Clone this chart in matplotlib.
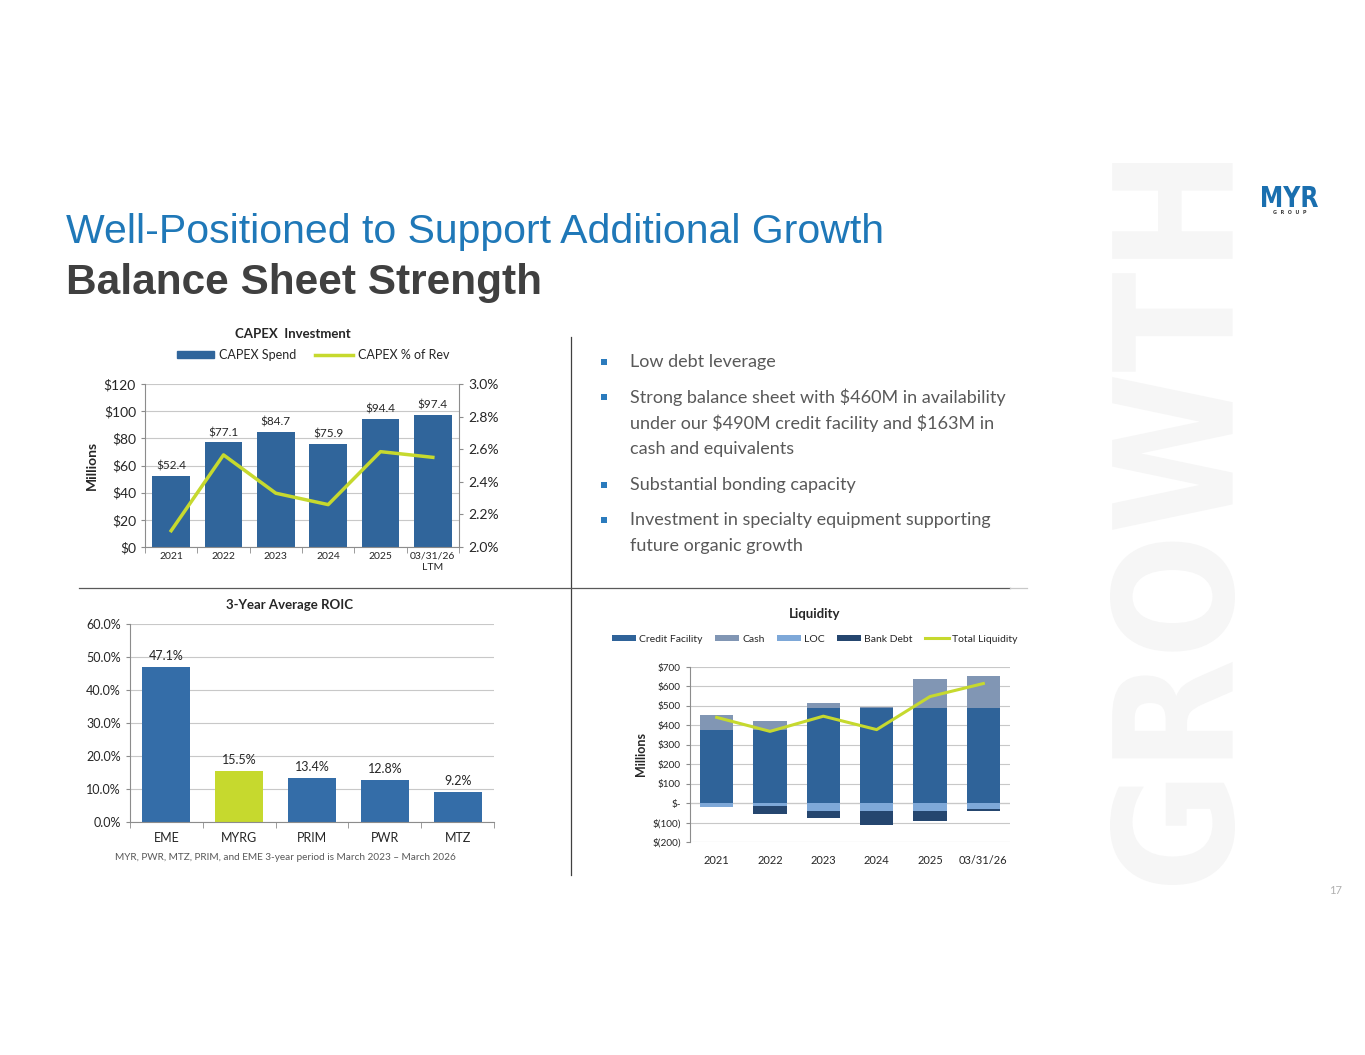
import numpy as np
import matplotlib
matplotlib.use("Agg")
import matplotlib.pyplot as plt
from matplotlib.patches import Rectangle, PathPatch
from matplotlib.lines import Line2D
from matplotlib.textpath import TextPath
from matplotlib.font_manager import FontProperties
from matplotlib.path import Path

W, H = 1365, 1055

# ---- data ----
capex_years = ["2021", "2022", "2023", "2024", "2025", "03/31/26\nLTM"]
capex_spend = [52.4, 77.1, 84.7, 75.9, 94.4, 97.4]
capex_pct = [2.10, 2.565, 2.33, 2.26, 2.585, 2.55]

roic_names = ["EME", "MYRG", "PRIM", "PWR", "MTZ"]
roic_vals = [47.1, 15.5, 13.4, 12.8, 9.2]

liq_years = ["2021", "2022", "2023", "2024", "2025", "03/31/26"]
credit_facility = [375, 375, 490, 491, 490, 490]
cash = [80, 48, 25, 3, 149, 163]
loc_used = [20, 15, 38, 38, 38, 30]
bank_debt = [0, 40, 37, 75, 55, 10]
total_liquidity = [441, 369, 447, 378, 548, 615]

bullets = [
    ["Low debt leverage"],
    ["Strong balance sheet with $460M in availability",
     "under our $490M credit facility and $163M in",
     "cash and equivalents"],
    ["Substantial bonding capacity"],
    ["Investment in specialty equipment supporting",
     "future organic growth"],
]

BLUE = "#30659b"
GREEN = "#c6d92e"
TXT = "#262626"
GRID = "#c8c8c8"
plt.rcParams["font.family"] = ["Lato", "DejaVu Sans"]


def fx(x):
    return x / W


def fy(y):
    return 1 - y / H


def style_axes(ax):
    for s in ["top", "right"]:
        ax.spines[s].set_visible(False)
    for s in ["left", "bottom"]:
        ax.spines[s].set_color("#8c8c8c")
        ax.spines[s].set_linewidth(0.8)
    ax.yaxis.grid(True, color=GRID, lw=0.8)
    ax.set_axisbelow(True)
    ax.tick_params(axis="y", length=3, color="#8c8c8c", colors=TXT)
    ax.tick_params(axis="x", which="major", length=0, colors=TXT)
    ax.tick_params(axis="x", which="minor", length=4, color="#8c8c8c")


def fit_text(fig, s, box, color, weight="bold", family="DejaVu Sans", rotate=False):
    # box = (x0, y0, x1, y1) in pixels, y from top
    path = TextPath((0, 0), s, size=100, prop=FontProperties(family=family, weight=weight))
    bb = path.get_extents()
    v = path.vertices.copy()
    x0, y0, x1, y1 = box
    if rotate:
        px = x1 - (v[:, 1] - bb.y0) / bb.height * (x1 - x0)
        py = y1 - (v[:, 0] - bb.x0) / bb.width * (y1 - y0)
    else:
        px = x0 + (v[:, 0] - bb.x0) / bb.width * (x1 - x0)
        py = y1 - (v[:, 1] - bb.y0) / bb.height * (y1 - y0)
    newpath = Path(np.column_stack([px / W, 1 - py / H]), path.codes)
    fig.patches.append(PathPatch(newpath, transform=fig.transFigure, fc=color, ec="none"))


fig = plt.figure(figsize=(W / 100, H / 100), dpi=100)

# watermark + logo
fit_text(fig, "GROWTH", (1110, 163, 1235, 885), "#f6f6f6", rotate=True)
fit_text(fig, "MYR", (1262, 186, 1318, 207), "#1a6faf", weight="heavy")
fig.text(fx(1290), fy(213), "G  R  O  U  P", fontsize=3.5, color="#404040",
         ha="center", va="center", family="DejaVu Sans", weight="bold")
fig.text(fx(1342), fy(890), "17", fontsize=8, color="#b0b0b0", ha="right", va="center")

# titles
fig.text(fx(66), fy(243), "Well-Positioned to Support Additional Growth",
         family="Liberation Sans", fontsize=29.5, color="#1f78b8", va="baseline")
fig.text(fx(66), fy(294), "Balance Sheet Strength", family="Liberation Sans",
         fontsize=30.5, weight="bold", color="#404040", va="baseline")

# divider lines
fig.add_artist(Line2D([fx(571), fx(571)], [fy(337), fy(875)], color="#404040", lw=0.9))
fig.add_artist(Line2D([fx(79), fx(1010)], [fy(588), fy(588)], color="#595959", lw=0.9))
fig.add_artist(Line2D([fx(1010), fx(1027)], [fy(588), fy(588)], color="#c8c8c8", lw=0.9))

# ---- CAPEX chart ----
ax1 = fig.add_axes([fx(145), fy(547), (459 - 145) / W, (547 - 384) / H])
x = np.arange(len(capex_years))
ax1.bar(x, capex_spend, width=0.72, color=BLUE)
for xi, v in zip(x, capex_spend):
    ax1.text(xi, v + 3, f"${v:.1f}", ha="center", va="bottom", fontsize=8.5, color=TXT)
ax1.set_xlim(-0.5, len(x) - 0.5)
ax1.set_ylim(0, 120)
ax1.set_yticks(np.arange(0, 121, 20))
ax1.set_yticklabels([f"${t}" for t in range(0, 121, 20)], fontsize=10)
ax1.set_xticks(x)
ax1.set_xticklabels(capex_years, fontsize=7.5, linespacing=1.3)
ax1.set_xticks(np.arange(-0.5, len(x), 1), minor=True)
style_axes(ax1)
ax1.set_ylabel("Millions", fontsize=10, weight="bold", color=TXT, labelpad=4)
ax1b = ax1.twinx()
ax1b.plot(x, capex_pct, color=GREEN, lw=2.5)
ax1b.set_ylim(2.0, 3.0)
ax1b.set_yticks(np.arange(2.0, 3.01, 0.2))
ax1b.set_yticklabels([f"{t:.1f}%" for t in np.arange(2.0, 3.01, 0.2)], fontsize=10)
ax1b.spines["top"].set_visible(False)
ax1b.spines["left"].set_visible(False)
ax1b.spines["bottom"].set_visible(False)
ax1b.spines["right"].set_color("#8c8c8c")
ax1b.tick_params(axis="y", length=3, color="#8c8c8c", colors=TXT)
fig.text(fx(293), fy(334), "CAPEX  Investment", ha="center", va="center",
         fontsize=9.5, weight="bold", color=TXT)
fig.legend([Rectangle((0, 0), 1, 1, color=BLUE), Line2D([], [], color=GREEN, lw=2.5)],
           ["CAPEX Spend", "CAPEX % of Rev"], loc="center", bbox_to_anchor=(fx(313), fy(355)),
           ncol=2, frameon=False, fontsize=9, handlelength=3.0, handleheight=0.55,
           columnspacing=1.5, handletextpad=0.4, labelcolor=TXT)

# ---- ROIC chart ----
ax2 = fig.add_axes([fx(130), fy(822), (494 - 130) / W, (822 - 624) / H])
x2 = np.arange(len(roic_names))
cols = [GREEN if n == "MYRG" else "#346da8" for n in roic_names]
ax2.bar(x2, roic_vals, width=0.66, color=cols)
for xi, v in zip(x2, roic_vals):
    ax2.text(xi, v + 1.5, f"{v:.1f}%", ha="center", va="bottom", fontsize=9, color=TXT)
ax2.set_xlim(-0.5, len(x2) - 0.5)
ax2.set_ylim(0, 60)
ax2.set_yticks(np.arange(0, 61, 10))
ax2.set_yticklabels([f"{t:.1f}%" for t in range(0, 61, 10)], fontsize=9)
ax2.set_xticks(x2)
ax2.set_xticklabels(roic_names, fontsize=9)
ax2.set_xticks(np.arange(-0.5, len(x2), 1), minor=True)
style_axes(ax2)
ax2.tick_params(axis="x", which="major", pad=7)
fig.text(fx(290), fy(605), "3-Year Average ROIC", ha="center", va="center",
         fontsize=9.5, weight="bold", color=TXT)
fig.text(fx(285), fy(858), "MYR, PWR, MTZ, PRIM, and EME 3-year period is March 2023 \u2013 March 2026",
         ha="center", va="center", fontsize=7.2, color="#595959")

# ---- Liquidity chart ----
ax3 = fig.add_axes([fx(690), fy(842), (1010 - 690) / W, (842 - 667) / H])
x3 = np.arange(len(liq_years))
bw = 0.62
cf = np.array(credit_facility)
ch = np.array(cash)
lc = np.array(loc_used)
bd = np.array(bank_debt)
ax3.bar(x3, cf, width=bw, color="#2f6399", label="Credit Facility")
ax3.bar(x3, ch, bottom=cf, width=bw, color="#8196b4", label="Cash")
ax3.bar(x3, -lc, width=bw, color="#7ea8d8", label="LOC")
ax3.bar(x3, -bd, bottom=-lc, width=bw, color="#25466f", label="Bank Debt")
ax3.plot(x3, total_liquidity, color=GREEN, lw=2.2, label="Total Liquidity")
ax3.set_xlim(-0.5, len(x3) - 0.5)
ax3.set_ylim(-200, 700)
yt = np.arange(-200, 701, 100)
ax3.set_yticks(yt)
ax3.set_yticklabels(["$-" if t == 0 else (f"$({-t})" if t < 0 else f"${t}") for t in yt],
                    fontsize=7.2)
ax3.set_xticks(x3)
ax3.set_xticklabels(liq_years, fontsize=8)
ax3.set_xticks(np.arange(-0.5, len(x3), 1), minor=True)
style_axes(ax3)
ax3.tick_params(axis="x", which="minor", length=0)
ax3.tick_params(axis="x", which="major", pad=9)
ax3.axhline(0, color="#8c8c8c", lw=0.8, zorder=0.5)
ax3.spines["bottom"].set_visible(False)
ax3.set_ylabel("Millions", fontsize=9, weight="bold", color=TXT, labelpad=4)
fig.text(fx(815), fy(614), "Liquidity", ha="center", va="center",
         fontsize=9.5, weight="bold", color=TXT)
h, l = ax3.get_legend_handles_labels()
order = [1, 2, 3, 4, 0]
fig.legend([h[i] for i in order], [l[i] for i in order], loc="center",
           bbox_to_anchor=(fx(815), fy(639)), ncol=5, frameon=False, fontsize=7.5,
           handlelength=2.3, handleheight=0.6, columnspacing=1.2, handletextpad=0.3,
           labelcolor=TXT)

# ---- bullets ----
line_y = [362, 397, 423, 449, 485, 520, 546]
k = 0
for b in bullets:
    fig.patches.append(Rectangle((fx(601), fy(line_y[k] + 3)), 6 / W, 6 / H,
                                 transform=fig.transFigure, fc="#2b7bbd", ec="none"))
    for line in b:
        fig.text(fx(630), fy(line_y[k]), line, fontsize=13, color="#595959", va="center",
                 parse_math=False)
        k += 1

fig.savefig("out.png", dpi=100)
